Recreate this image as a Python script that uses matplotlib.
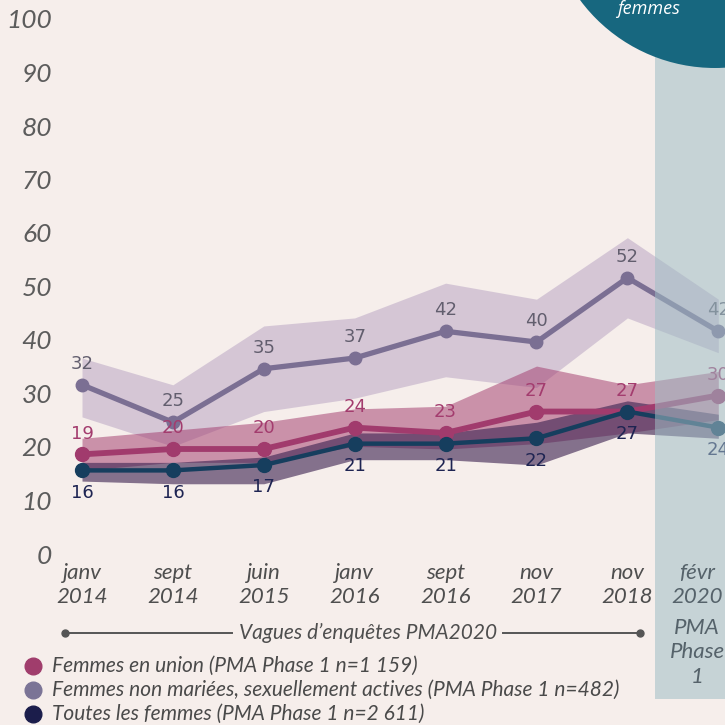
import matplotlib
matplotlib.use("Agg")
import matplotlib.pyplot as plt
from matplotlib.patches import Circle, Rectangle

# data
waves = ["janv\n2014", "sept\n2014", "juin\n2015", "janv\n2016", "sept\n2016",
         "nov\n2017", "nov\n2018", "févr\n2020"]
union = [19, 20, 20, 24, 23, 27, 27, 30]
union_lo = [16, 17.5, 17.5, 20.5, 20, 21, 23, 25.5]
union_hi = [22, 23.5, 25, 27.5, 28, 35.5, 32, 34.5]
unmarried = [32, 25, 35, 37, 42, 40, 52, 42]
unmarried_lo = [26, 20.5, 27, 29.5, 33.5, 31.5, 44.5, 38]
unmarried_hi = [37, 32, 43, 44.5, 51, 48, 59.5, 48]
allw = [16, 16, 17, 21, 21, 22, 27, 24]
allw_lo = [14, 13.5, 13.5, 18, 18, 17, 23, 22]
allw_hi = [17.5, 17.5, 18.5, 23, 23, 25, 29, 26.5]
yticks = [0, 10, 20, 30, 40, 50, 60, 70, 80, 90, 100]
legend_labels = ["Femmes en union (PMA Phase 1 n=1 159)",
                 "Femmes non mariées, sexuellement actives (PMA Phase 1 n=482)",
                 "Toutes les femmes (PMA Phase 1 n=2 611)"]

bg = "#f6eeeb"
c_union = "#a13b6d"
c_unm = "#7b6f93"
c_all = "#163e5e"

W = 725.0
x0, dx = 82.0, 90.9      # pixel of first wave, spacing
y0, dy = 556.0, 5.35     # pixel of value 0, pixels per unit


def fx(px):
    return px / W


def fy(py):
    return 1 - py / W


fig = plt.figure(figsize=(7.25, 7.25), dpi=100, facecolor=bg)
ax = fig.add_axes([0, 0, 1, 1])
ax.set_facecolor(bg)
ax.set_xlim(-x0 / dx, (W - x0) / dx)
ax.set_ylim((y0 - W) / dy, y0 / dy)
ax.axis("off")

xs = list(range(len(waves)))

# confidence bands
ax.fill_between(xs, unmarried_lo, unmarried_hi, color="#a48cb6", alpha=0.4, lw=0, zorder=1)
ax.fill_between(xs, union_lo, union_hi, color="#a33c6e", alpha=0.52, lw=0, zorder=2)
ax.fill_between(xs, allw_lo, allw_hi, color="#3e2452", alpha=0.62, lw=0, zorder=3)

# lines
ax.plot(xs, unmarried, color=c_unm, lw=3.8, marker="o", ms=9, zorder=5)
ax.plot(xs, union, color=c_union, lw=4.2, marker="o", ms=10, zorder=6)
ax.plot(xs, allw, color=c_all, lw=3.2, marker="o", ms=10, zorder=7)

lab_font = dict(family="DejaVu Sans", fontsize=13)
for i in xs:
    ax.annotate(str(unmarried[i]), (i, unmarried[i]), xytext=(0, 15), textcoords="offset points",
                ha="center", va="center", color="#625e6e", zorder=8, **lab_font)
    ax.annotate(str(union[i]), (i, union[i]), xytext=(0, 15), textcoords="offset points",
                ha="center", va="center", color="#a33c6e", zorder=8, **lab_font)
    ax.annotate(str(allw[i]), (i, allw[i]), xytext=(0, -16), textcoords="offset points",
                ha="center", va="center", color="#1e2452", zorder=8, **lab_font)

# y tick labels
for v in yticks:
    fig.text(fx(52), fy(y0 - dy * v), str(v), ha="right", va="center",
             fontsize=19, family="Lato", style="italic", color="#5c5c5c")

# x labels
cond = ["Lato", "DejaVu Sans"]
for i, lab in enumerate(waves):
    top, bot = lab.split("\n")
    px = x0 + dx * i if i < len(waves) - 1 else 697
    col = "#4e4e4e" if i < len(waves) - 1 else "#55626a"
    fig.text(fx(px), fy(573), top, ha="center", va="center", fontsize=16,
             family=cond, style="italic", color=col, zorder=12)
    fig.text(fx(px), fy(597), bot, ha="center", va="center", fontsize=16,
             family=cond, style="italic", color=col, zorder=12)

# phase 1 column overlay
fig.patches.append(Rectangle((fx(655), fy(699)), fx(70), 699 / W, transform=fig.transFigure,
                             color="#9fbdc5", alpha=0.55, lw=0, zorder=10))
for py, t in [(628, "PMA"), (652, "Phase"), (677, "1")]:
    fig.text(fx(697), fy(py), t, ha="center", va="center", fontsize=16,
             family=cond, style="italic", color="#55626a", zorder=12)

# circle top right
fig.patches.append(Circle((fx(715), fy(-100)), 168 / W, transform=fig.transFigure,
                          color="#17677f", lw=0, zorder=11))
fig.text(fx(648), fy(9), "femmes", ha="center", va="center", fontsize=13,
         family="Open Sans", style="italic", color="white", zorder=12)

# waves line
gy = fy(633)
for a, b in [(65, 232), (503, 640)]:
    ax.plot([fx(a), fx(b)], [gy, gy], color="#555555", lw=1.4, transform=fig.transFigure, clip_on=False)
ax.plot([fx(65), fx(640)], [gy, gy], "o", color="#555555", ms=5, transform=fig.transFigure, clip_on=False)
fig.text(fx(368), gy, "Vagues d\u2019enquêtes PMA2020", ha="center", va="center", fontsize=15,
         family=cond, style="italic", color="#4e4e4e")

# legend
for py, lab, c in zip([666, 690, 714], legend_labels, ["#a03d6c", "#7b7496", "#1b1d4b"]):
    ax.plot([fx(33)], [fy(py)], "o", color=c, ms=12, transform=fig.transFigure, clip_on=False)
    fig.text(fx(52), fy(py), lab, ha="left", va="center", fontsize=15,
             family=cond, style="italic", color="#4a4a4a")

fig.savefig("out.png", dpi=100, facecolor=bg)
